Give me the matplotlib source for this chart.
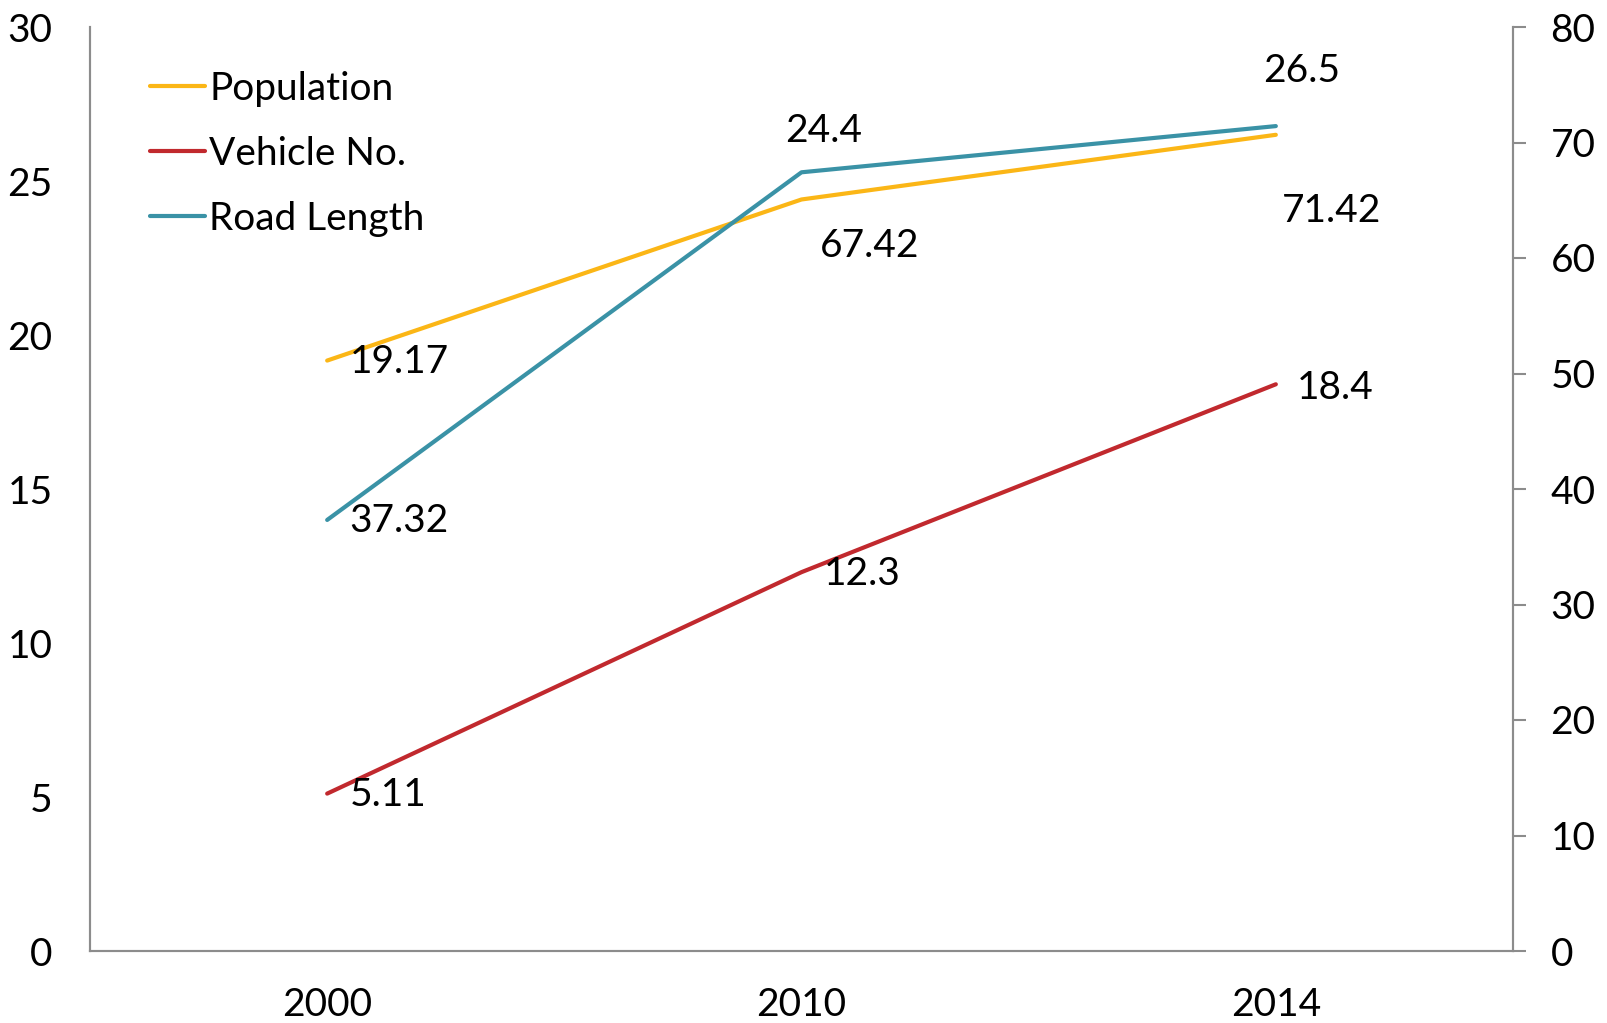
import matplotlib
matplotlib.use("Agg")
import matplotlib.pyplot as plt

plt.rcParams['font.family'] = ['Lato', 'DejaVu Sans']

years = ["2000", "2010", "2014"]
population = [19.17, 24.4, 26.5]
vehicles = [5.11, 12.3, 18.4]
road_length = [37.32, 67.42, 71.42]

left_ticks = [0, 5, 10, 15, 20, 25, 30]
right_ticks = [0, 10, 20, 30, 40, 50, 60, 70, 80]

c_pop = "#FBB616"
c_veh = "#C1292E"
c_road = "#3A92A6"
gray = "#8C8C8C"
FS = 28

W, H = 1608, 1023
fig = plt.figure(figsize=(W / 100, H / 100), dpi=100)
ax = fig.add_axes([90 / W, 1 - 951 / H, (1513 - 90) / W, (951 - 27) / H])
ax2 = ax.twinx()

x = list(range(len(years)))
lp, = ax.plot(x, population, color=c_pop, lw=3.0, solid_capstyle='round', label="Population")
lv, = ax.plot(x, vehicles, color=c_veh, lw=3.0, solid_capstyle='round', label="Vehicle No.")
lr, = ax2.plot(x, road_length, color=c_road, lw=3.0, solid_capstyle='round', label="Road Length")

ax.set_xlim(-0.5, 2.5)
ax.set_ylim(0, 30)
ax2.set_ylim(0, 80)
ax.set_xticks(x)
ax.set_xticklabels(years)
ax.set_yticks(left_ticks)
ax2.set_yticks(right_ticks)

for a in (ax, ax2):
    for s in a.spines.values():
        s.set_color(gray)
        s.set_linewidth(1.5)
    a.spines['top'].set_visible(False)

ax.tick_params(axis='x', length=0, pad=26, labelsize=FS)
ax.tick_params(axis='y', length=0, pad=27, labelsize=FS)
ax2.tick_params(axis='y', length=9, width=1.5, color=gray, direction='out', pad=18, labelsize=FS)

# data labels (offsets in points)
def lab(a, xi, yi, txt, dx, dy):
    a.annotate(txt, (xi, yi), xytext=(dx, dy), textcoords='offset points',
               ha='left', va='center', fontsize=FS, color='black')

lab(ax, 0, population[0], "19.17", 16, -1)
lab(ax, 1, population[1], "24.4", -12, 49)
lab(ax, 2, population[2], "26.5", -9, 46)
lab(ax, 0, vehicles[0], "5.11", 16, -1)
lab(ax, 1, vehicles[1], "12.3", 16, -1)
lab(ax, 2, vehicles[2], "18.4", 15, -3)
lab(ax2, 0, road_length[0], "37.32", 16, -1)
lab(ax2, 1, road_length[1], "67.42", 13, -53)
lab(ax2, 2, road_length[2], "71.42", 4, -61)

leg = fig.legend(handles=[lp, lv, lr], loc='upper left',
                 bbox_to_anchor=(150 / W, 1 - 71 / H), frameon=False,
                 fontsize=FS, handlelength=1.42, handletextpad=0.1,
                 labelspacing=0.74, borderpad=0, borderaxespad=0)

fig.savefig("out.png", dpi=100)
